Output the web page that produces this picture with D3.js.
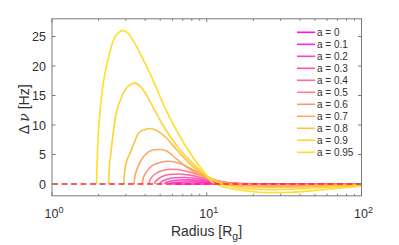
<!DOCTYPE html>
<html>
<head>
<meta charset="utf-8">
<script src="https://cdn.jsdelivr.net/npm/d3@7"></script>
<style>
    body { margin: 0; background: #fff; }
    text { font-family: 'Liberation Sans', Arial, sans-serif; fill: #303030; }
</style>
</head>
<body>
<div id="chart-container"></div>
<script>

// spin values (legend)
let spins = ['0', '0.1', '0.2', '0.3', '0.4', '0.5', '0.6', '0.7', '0.8', '0.9', '0.95'];

// radius [Rg] and delta nu [Hz] for each spin
let r00 = [6, 10, 30, 100];
let dnu00 = [0, 0, 0, 0];
let r01 = [5.67, 5.75, 6.0, 6.5, 7.3, 8.3, 10, 13, 18, 30, 100];
let dnu01 = [0, 0.1, 0.2, 0.3, 0.35, 0.34, 0.26, 0.12, 0.02, -0.01, 0];
let r02 = [5.33, 5.4, 5.6, 6.0, 6.7, 7.6, 9.2, 11.5, 15, 25, 50, 100];
let dnu02 = [0, 0.18, 0.35, 0.55, 0.68, 0.7, 0.58, 0.33, 0.1, -0.03, -0.02, -0.01];
let r03 = [4.98, 5.03, 5.2, 5.6, 6.2, 7.1, 8.5, 10.5, 13, 17, 25, 50, 100];
let dnu03 = [0, 0.25, 0.5, 0.85, 1.05, 1.1, 0.95, 0.6, 0.25, 0.03, -0.05, -0.04, -0.02];
let r04 = [4.61, 4.66, 4.8, 5.1, 5.7, 6.6, 7.8, 9.5, 12, 16, 25, 50, 100];
let dnu04 = [0, 0.4, 0.75, 1.2, 1.6, 1.7, 1.5, 1.0, 0.4, 0.05, -0.08, -0.06, -0.03];
let r05 = [4.23, 4.28, 4.4, 4.7, 5.2, 6.0, 7.0, 8.5, 10, 12, 15, 20, 30, 50, 100];
let dnu05 = [0, 0.6, 1.1, 1.8, 2.3, 2.5, 2.3, 1.7, 1.1, 0.5, 0.1, -0.08, -0.12, -0.1, -0.05];
let r06 = [3.83, 3.88, 4.0, 4.3, 4.8, 5.6, 6.5, 7.5, 9, 11, 14, 20, 30, 50, 100];
let dnu06 = [0, 0.9, 1.7, 2.8, 3.5, 3.85, 3.6, 2.9, 1.8, 0.8, 0.1, -0.15, -0.2, -0.15, -0.08];
let r07 = [3.39, 3.43, 3.53, 3.8, 4.19, 4.6, 4.95, 5.5, 6.4, 8.2, 10, 12, 15, 20, 30, 50, 100];
let dnu07 = [0, 1.2, 2.4, 4.2, 5.4, 5.8, 5.85, 5.6, 4.2, 2.1, 1.0, 0.3, -0.15, -0.3, -0.35, -0.25, -0.12];
let r08 = [2.91, 2.95, 3.05, 3.19, 3.4, 3.62, 3.95, 4.3, 4.7, 5.24, 6.4, 8.2, 10, 12, 15, 20, 30, 50, 100];
let dnu08 = [0, 2.2, 4.0, 5.2, 7.0, 8.6, 9.2, 9.4, 9.1, 8.3, 5.8, 2.9, 1.3, 0.3, -0.25, -0.5, -0.55, -0.4, -0.2];
let r09 = [2.32, 2.35, 2.40, 2.55, 2.82, 3.19, 3.45, 3.9, 4.5, 5.2, 6.4, 8.2, 10, 12, 15, 20, 28, 40, 60, 100];
let dnu09 = [0, 3, 5.2, 10.8, 14.8, 16.8, 17.1, 15.9, 13.0, 10.0, 6.5, 3.4, 1.4, 0.2, -0.5, -0.85, -0.95, -0.8, -0.55, -0.3];
let r095 = [1.94, 1.97, 2.02, 2.13, 2.35, 2.5, 2.7, 2.88, 3.1, 3.4, 3.9, 4.5, 5.2, 6.4, 8.2, 9.5, 10.8, 13, 17, 25, 35, 50, 70, 100];
let dnu095 = [0, 6, 10.8, 16.5, 22.1, 24.4, 25.7, 26.0, 25.6, 24.0, 21.0, 17.6, 13.7, 9.0, 4.4, 2.2, 0.3, -0.5, -1.1, -1.45, -1.4, -1.1, -0.7, -0.35];

let xTicks = [1, 10, 100];
let xTickExp = ['0', '1', '2'];
let yTicks = [0, 5, 10, 15, 20, 25];

let radii = [r00, r01, r02, r03, r04, r05, r06, r07, r08, r09, r095];
let dnus = [dnu00, dnu01, dnu02, dnu03, dnu04, dnu05, dnu06, dnu07, dnu08, dnu09, dnu095];

let width = 399;
let height = 245;
let plot = {left: 52, right: 361.5, top: 18.8, bottom: 195.8};

let x = d3.scaleLog()
    .domain([1, 100])
    .range([plot.left, plot.right]);

let y = d3.scaleLinear()
    .domain([-2, 28])
    .range([plot.bottom, plot.top]);

// spring-like colormap, a little deeper at the yellow end
let color = d3.scaleLinear()
    .domain([0, 0.5, 1])
    .range(['#ff10ee', '#ff8088', '#ffe81a'])
    .interpolate(d3.interpolateRgb);

let svg = d3.select('#chart-container')
    .append('svg')
    .attr('width', width)
    .attr('height', height);

let line = d3.line()
    .x(function(d) { return x(d[0]); })
    .y(function(d) { return y(d[1]); })
    .curve(d3.curveMonotoneX);

let curves = svg.append('g').attr('class', 'curves');

radii.forEach(function(rs, i) {
    let pts = rs.map(function(r, j) { return [r, dnus[i][j]]; });
    curves.append('path')
        .attr('d', line(pts))
        .attr('fill', 'none')
        .attr('stroke', color(+spins[i]))
        .attr('stroke-width', 1.6);
});

// zero line
svg.append('line')
    .attr('x1', x(1))
    .attr('x2', x(100))
    .attr('y1', y(0))
    .attr('y2', y(0))
    .attr('stroke', '#ff2828')
    .attr('stroke-width', 1.3)
    .attr('stroke-dasharray', '6,3.5');

// box
let axisColor = '#7a7a7a';
svg.append('rect')
    .attr('x', plot.left)
    .attr('y', plot.top)
    .attr('width', plot.right - plot.left)
    .attr('height', plot.bottom - plot.top)
    .attr('fill', 'none')
    .attr('stroke', axisColor)
    .attr('stroke-width', 1);

// x ticks (major + minor, inward, top and bottom)
let ticks = svg.append('g').attr('stroke', axisColor).attr('stroke-width', 1);
let minor = [];
[1, 10].forEach(function(dec) {
    for (let k = 2; k <= 9; k++) { minor.push(dec * k); }
});
minor.forEach(function(v) {
    ticks.append('line').attr('x1', x(v)).attr('x2', x(v)).attr('y1', plot.bottom).attr('y2', plot.bottom - 2);
    ticks.append('line').attr('x1', x(v)).attr('x2', x(v)).attr('y1', plot.top).attr('y2', plot.top + 2);
});
xTicks.forEach(function(v) {
    ticks.append('line').attr('x1', x(v)).attr('x2', x(v)).attr('y1', plot.bottom).attr('y2', plot.bottom - 3.5);
    ticks.append('line').attr('x1', x(v)).attr('x2', x(v)).attr('y1', plot.top).attr('y2', plot.top + 3.5);
});
yTicks.forEach(function(v) {
    ticks.append('line').attr('x1', plot.left).attr('x2', plot.left + 3.5).attr('y1', y(v)).attr('y2', y(v));
    ticks.append('line').attr('x1', plot.right).attr('x2', plot.right - 3.5).attr('y1', y(v)).attr('y2', y(v));
});

// tick labels
svg.append('g')
    .selectAll('text')
    .data(yTicks)
    .enter()
    .append('text')
    .attr('x', plot.left - 6)
    .attr('y', function(d) { return y(d) + 4.5; })
    .attr('text-anchor', 'end')
    .attr('font-size', 12.5)
    .text(function(d) { return d; });

let xl = svg.append('g')
    .selectAll('text')
    .data(xTicks)
    .enter()
    .append('text')
    .attr('x', function(d) { return x(d) + 2; })
    .attr('y', 218)
    .attr('text-anchor', 'middle')
    .attr('font-size', 12.5);
xl.append('tspan').text('10');
xl.append('tspan')
    .attr('dy', -5.5)
    .attr('font-size', 9)
    .text(function(d, i) { return xTickExp[i]; });

// axis labels
let xlab = svg.append('text')
    .attr('x', 206.5)
    .attr('y', 236)
    .attr('text-anchor', 'middle')
    .attr('font-size', 14);
xlab.append('tspan').text('Radius [R');
xlab.append('tspan').attr('dy', 4).attr('font-size', 10.5).text('g');
xlab.append('tspan').attr('dy', -4).text(']');

let ylab = svg.append('text')
    .attr('transform', 'translate(29,' + ((plot.top + plot.bottom) / 2 + 2) + ') rotate(-90)')
    .attr('text-anchor', 'middle')
    .attr('font-size', 14);
ylab.append('tspan').text('\u0394 ');
ylab.append('tspan').attr('font-style', 'italic').attr('font-family', 'DejaVu Serif, serif').text('\u03bd');
ylab.append('tspan').text(' [Hz]');

// legend
let legend = svg.append('g')
    .attr('class', 'legend')
    .selectAll('g')
    .data(spins)
    .enter()
    .append('g')
    .attr('transform', function(d, i) { return 'translate(297,' + (32.3 + i * 12) + ')'; });

legend.append('line')
    .attr('x1', 0)
    .attr('x2', 18)
    .attr('stroke', function(d) { return color(+d); })
    .attr('stroke-width', 1.6);

legend.append('text')
    .attr('x', 20)
    .attr('y', 3.6)
    .attr('font-size', 10)
    .text(function(d) { return 'a = ' + d; });

</script>
</body>
</html>
